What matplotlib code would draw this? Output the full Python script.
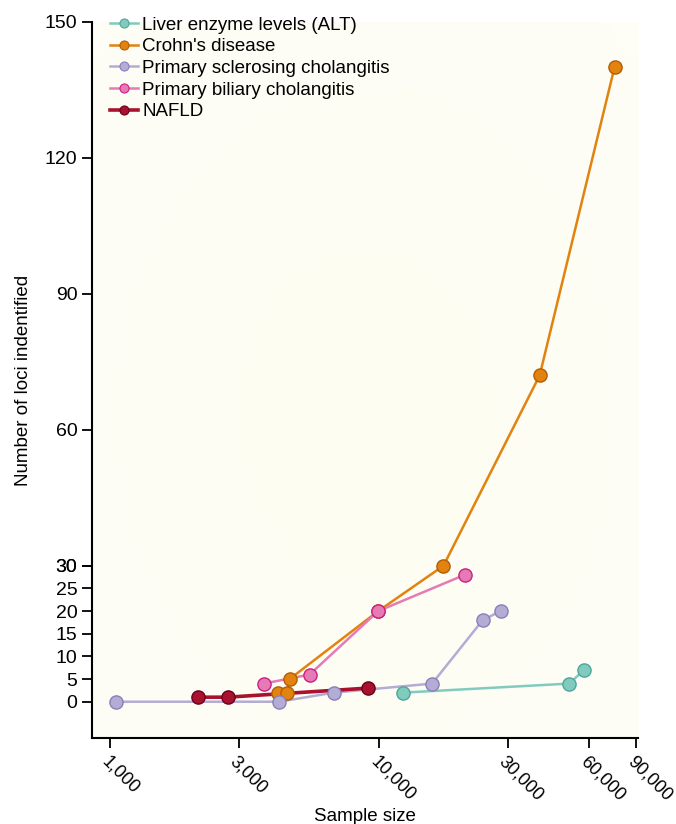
import numpy as np
import matplotlib
matplotlib.use("Agg")
import matplotlib.pyplot as plt

plt.rcParams['font.family'] = ['Liberation Sans', 'DejaVu Sans']

# sample size / loci identified
alt_n = [12200, 50800, 57500]
alt_loci = [2, 4, 7]

crohn_n = [4200, 4540, 4640, 9900, 17300, 39400, 74750]
crohn_loci = [2, 2, 5, 20, 30, 72, 140]

psc_n = [1050, 4240, 6760, 15700, 24200, 28200]
psc_loci = [0, 0, 2, 4, 18, 20]

pbc_n = [3720, 5510, 9900, 20750]
pbc_loci = [4, 6, 20, 28]

nafld_n = [2120, 2730, 9050]
nafld_loci = [1, 1, 3]

xticks = [1000, 3000, 10000, 30000, 60000, 90000]
xtick_labels = ["1,000", "3,000", "10,000", "30,000", "60,000", "90,000"]
yticks = [0, 5, 10, 15, 20, 25, 30, 30, 60, 90, 120, 150]

series = [
    ("Liver enzyme levels (ALT)", alt_n, alt_loci, "#80cbbd", "#4ea699", 1.8),
    ("Crohn's disease", crohn_n, crohn_loci, "#e2820f", "#b35d06", 1.8),
    ("Primary sclerosing cholangitis", psc_n, psc_loci, "#b3acd4", "#8a80b8", 1.8),
    ("Primary biliary cholangitis", pbc_n, pbc_loci, "#e57ab4", "#c9217f", 1.8),
    ("NAFLD", nafld_n, nafld_loci, "#a8122e", "#6a0019", 2.6),
]

fig = plt.figure(figsize=(6.76, 8.24), dpi=100)
ax = fig.add_axes([0.136, 0.1044, 0.808, 0.869])

# faint radial wash behind the data
gx, gy = np.meshgrid(np.linspace(0, 1, 200), np.linspace(0, 1, 200))
r = np.sqrt((gx - 0.5) ** 2 + (gy - 0.45) ** 2)
r = np.clip(r / 0.7, 0, 1)
c0 = np.array([253, 253, 241]) / 255
c1 = np.array([254, 254, 247]) / 255
img = c0[None, None, :] * (1 - r[..., None]) + c1[None, None, :] * r[..., None]
ax.imshow(img, extent=[0, 1, 0, 1], transform=ax.transAxes, aspect="auto",
          zorder=0, origin="lower")

for label, xs, ys, face, edge, lw in series:
    ax.plot(xs, ys, "-", color=face, lw=lw, zorder=3)
    ax.plot(xs, ys, "o", ms=9.5, mfc=face, mec=edge, mew=1.0, zorder=4)
    ax.plot([], [], "-o", color=face, lw=lw, ms=6.5, mfc=face, mec=edge,
            mew=0.8, label=label)

ax.set_xscale("log")
ax.set_xlim(855, 91500)
ax.set_ylim(-8, 150)

ax.set_xticks(xticks)
ax.set_xticklabels(xtick_labels, rotation=-45, ha="left", va="top",
                   rotation_mode="anchor", fontsize=13)
ax.xaxis.set_minor_locator(matplotlib.ticker.NullLocator())
ax.set_yticks(yticks)
ax.set_yticklabels([str(v) for v in yticks], fontsize=14)

for s in ["top", "right"]:
    ax.spines[s].set_visible(False)
for s in ["left", "bottom"]:
    ax.spines[s].set_linewidth(1.5)
ax.tick_params(direction="out", length=7, width=1.3)

ax.set_xlabel("Sample size", fontsize=13.5, labelpad=3)
ax.set_ylabel("Number of loci indentified", fontsize=13.5, labelpad=9)

ax.legend(loc="upper left", bbox_to_anchor=(0.02, 1.018), borderaxespad=0,
          frameon=False, fontsize=13.5, labelspacing=0.24, handlelength=1.45,
          handletextpad=0.25)

fig.savefig("out.png", dpi=100)
